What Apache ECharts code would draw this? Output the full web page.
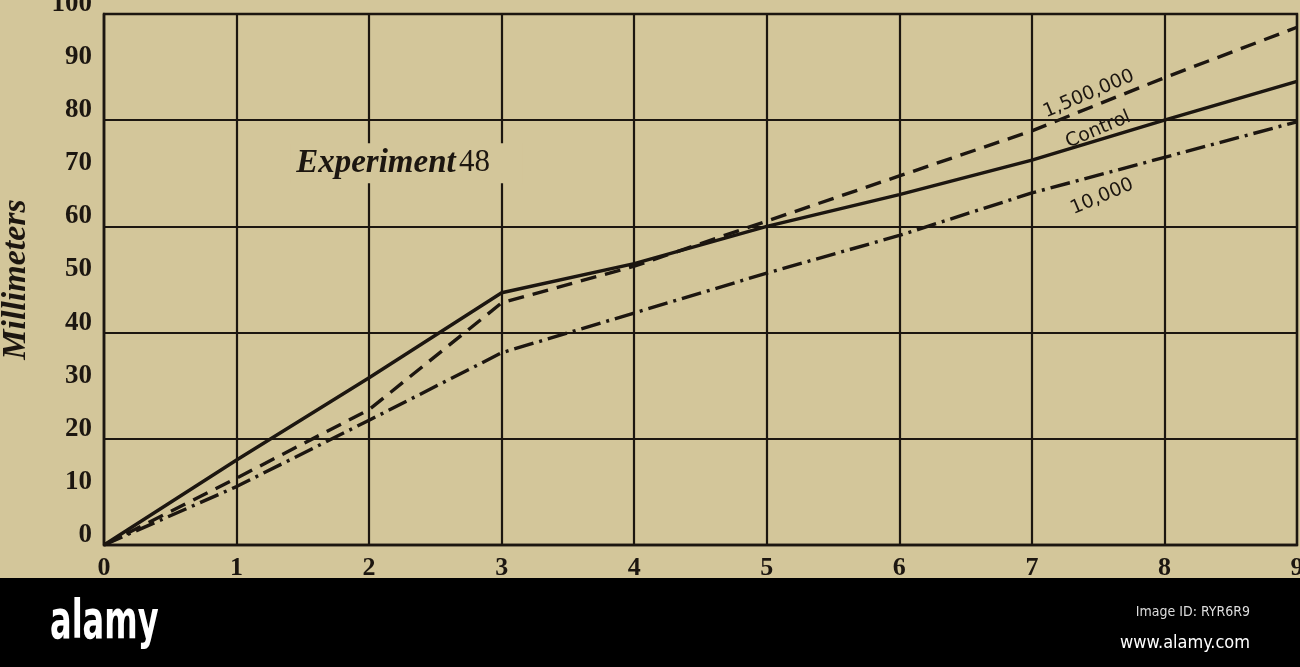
<!DOCTYPE html>
<html><head><meta charset="utf-8">
<script src="https://cdn.jsdelivr.net/npm/echarts@6/dist/echarts.min.js"></script>
<style>html,body{margin:0;padding:0;background:#d3c69a}#c{width:1300px;height:667px}</style>
</head><body><div id="c"></div><script>
// ---- data ----
const xValues = [0, 1, 2, 3, 4, 5, 6, 7, 8, 9];
const xTickLabels = ['0', '1', '2', '3', '4', '5', '6', '7', '8', '9'];
const yTickLabels = ['0', '10', '20', '30', '40', '50', '60', '70', '80', '90', '100'];
const seriesNames = ['Control', '1,500,000', '10,000'];
const control = [0, 16, 31.5, 47.5, 53, 60, 66, 72.5, 80, 87.3];
const million = [0, 12.6, 25.5, 45.6, 52.5, 61, 69.5, 78, 88, 97.5];
const tenThousand = [0, 11, 23.5, 36.2, 43.7, 51.2, 58.3, 66.3, 73, 79.7];
const title = 'Experiment';
const titleNum = '48';
const yName = 'Millimeters';
// label anchor points in data coordinates
const labelAnchors = [[7.43, 84.9], [7.5, 78.2], [7.53, 65.6]];
const titleAnchor = [1.45, 71.9];

const ink = '#1c1610';
const bg = '#d3c69a';
const serif = 'Liberation Serif';
const chart = echarts.init(document.getElementById('c'), null, {renderer: 'canvas'});

function pairs(arr) { return xValues.map((x, i) => [x, arr[i]]); }

const option = {
  backgroundColor: bg,
  animation: false,
  grid: {left: 104, right: 3, top: 14, bottom: 122, outerBoundsMode: 'none', containLabel: false,
    show: true, borderColor: ink, borderWidth: 2.4, backgroundColor: 'transparent'},
  xAxis: {
    type: 'value', min: 0, max: 9, interval: 1,
    axisLine: {show: true, lineStyle: {color: ink, width: 2.4}},
    axisTick: {show: false},
    splitLine: {show: true, lineStyle: {color: ink, width: 2.2}},
    axisLabel: {color: ink, fontFamily: serif, fontWeight: 'bold', fontSize: 26, margin: 10, showMaxLabel: true,
      formatter: v => xTickLabels[Math.round(v)]}
  },
  yAxis: [
    {
      type: 'value', min: 0, max: 100, interval: 10, position: 'left',
      axisLine: {show: true, lineStyle: {color: ink, width: 2.4}},
      axisTick: {show: false},
      splitLine: {show: false},
      axisLabel: {color: ink, fontFamily: serif, fontWeight: 'bold', fontSize: 27, margin: 12,
        verticalAlign: 'bottom', lineHeight: 20,
        formatter: v => yTickLabels[Math.round(v / 10)]},
      name: yName, nameLocation: 'middle', nameGap: 71,
      nameTextStyle: {fontFamily: serif, fontStyle: 'italic', fontWeight: 'bold', fontSize: 34, color: ink}
    },
    {
      type: 'value', min: 0, max: 100, interval: 20, position: 'left',
      axisLine: {show: false}, axisTick: {show: false}, axisLabel: {show: false},
      splitLine: {show: true, lineStyle: {color: ink, width: 2.2}}
    }
  ],
  series: [
    {name: seriesNames[0], type: 'line', data: pairs(control), symbol: 'none',
      lineStyle: {color: ink, width: 3.4, type: 'solid'}, z: 5},
    {name: seriesNames[1], type: 'line', data: pairs(million), symbol: 'none',
      lineStyle: {color: ink, width: 3.4, type: [16, 9]}, z: 5},
    {name: seriesNames[2], type: 'line', data: pairs(tenThousand), symbol: 'none',
      lineStyle: {color: ink, width: 3.4, type: [20, 6, 3, 6]}, z: 5}
  ]
};
chart.setOption(option);

const rot = 23 * Math.PI / 180;
const graphics = labelAnchors.map((a, i) => {
  const p = chart.convertToPixel({xAxisIndex: 0, yAxisIndex: 0}, a);
  return {type: 'text', x: p[0], y: p[1], rotation: rot, z: 20,
    style: {text: seriesNames[[1, 0, 2][i]], align: 'center', verticalAlign: 'middle',
      fontFamily: 'DejaVu Sans', fontSize: 19, fill: ink}};
});
const tp = chart.convertToPixel({xAxisIndex: 0, yAxisIndex: 0}, titleAnchor);
graphics.push({type: 'rect', x: tp[0] - 6, y: tp[1] - 20, z: 15,
  shape: {width: 232, height: 40}, style: {fill: bg}});
graphics.push({type: 'text', x: tp[0], y: tp[1], z: 20,
  style: {text: '{a|' + title + '} {b|' + titleNum + '}', verticalAlign: 'middle',
    rich: {a: {fontFamily: serif, fontStyle: 'italic', fontWeight: 'bold', fontSize: 33, fill: ink},
           b: {fontFamily: serif, fontSize: 31, fill: ink}}}});
// photo credit band at the bottom of the reference picture
graphics.push({type: 'rect', x: 0, y: 578, z: 100, shape: {width: 1300, height: 89}, style: {fill: '#000'}});
graphics.push({type: 'text', x: 50, y: 624, z: 101, scaleX: 0.66,
  style: {text: 'alamy', verticalAlign: 'middle', fontFamily: 'DejaVu Sans Condensed', fontWeight: 'bold', fontSize: 54, fill: '#fff'}});
graphics.push({type: 'text', x: 1250, y: 612, z: 101,
  style: {text: 'Image ID: RYR6R9', align: 'right', verticalAlign: 'middle', fontFamily: 'DejaVu Sans Condensed', fontSize: 14, fill: '#ddd'}});
graphics.push({type: 'text', x: 1250, y: 643, z: 101,
  style: {text: 'www.alamy.com', align: 'right', verticalAlign: 'middle', fontFamily: 'DejaVu Sans Condensed', fontSize: 18, fill: '#fff'}});
chart.setOption({graphic: graphics});
</script></body></html>
